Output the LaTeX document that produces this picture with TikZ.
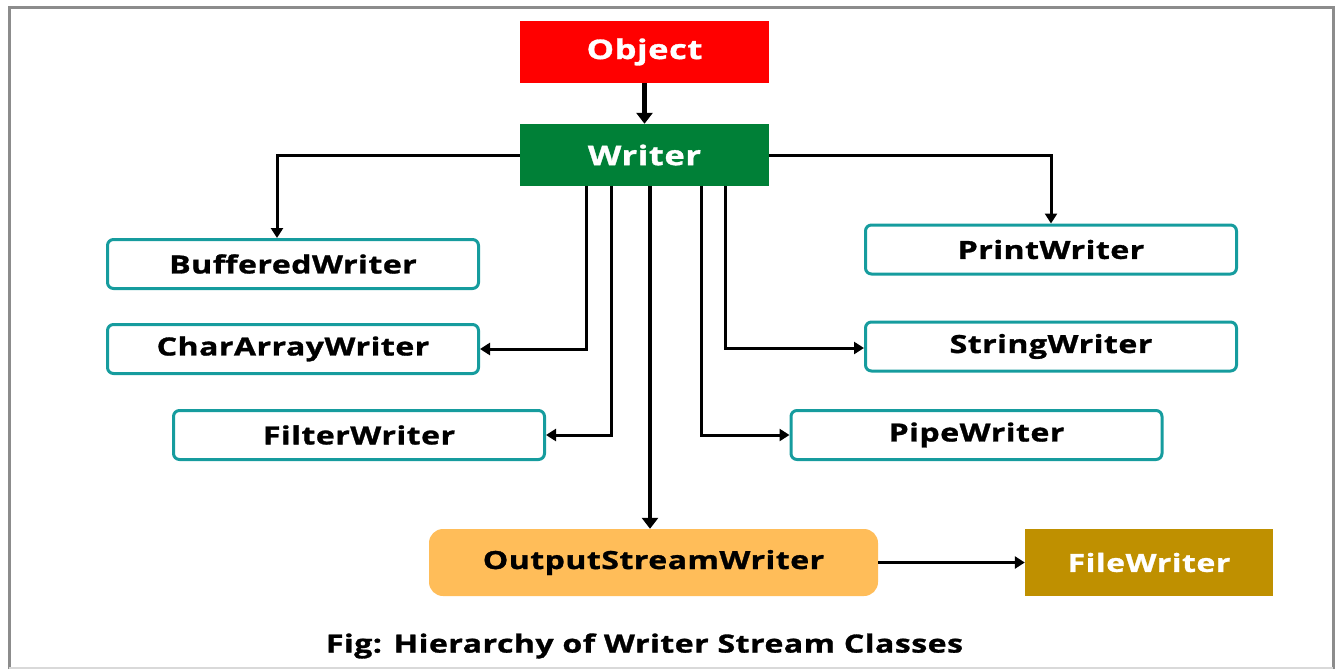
\documentclass[tikz,border=0pt]{standalone}
\usepackage{fontspec}
\setmainfont{Open Sans}
\newfontfamily\widefont[FakeStretch=1.28,LetterSpace=2,FakeBold=1.2]{Open Sans}
\usetikzlibrary{arrows.meta}
\definecolor{objred}{HTML}{FF0000}
\definecolor{wgreen}{HTML}{008037}
\definecolor{teal2}{HTML}{169C9E}
\definecolor{orng}{HTML}{FFBD59}
\definecolor{gold2}{HTML}{BF9000}
\begin{document}
\begin{tikzpicture}[x=1pt,y=-1pt,
  topbox/.style={minimum width=249pt,minimum height=62pt,inner sep=0pt,text=white,font=\widefont\bfseries\fontsize{27}{30}\selectfont},
  classbox/.style={draw=teal2,line width=3pt,rounded corners=6pt,minimum width=371pt,minimum height=49pt,inner sep=0pt,font=\widefont\bfseries\fontsize{25}{28}\selectfont},
  conn/.style={line width=3pt,-{Triangle[width=12pt,length=10pt]}},
  thick conn/.style={line width=4.5pt,-{Triangle[width=16pt,length=11pt]}},
  frame/.style={draw=gray!90,line width=3pt}
]
\useasboundingbox (0,0) rectangle (1340,669);
\draw[frame] (9,669) -- (9,8) -- (1333,8) -- (1333,669);
\draw[gray!30,line width=1.5pt] (9,668) -- (1333,668);

\node[topbox,fill=objred] (object) at (644.5,52) {Object};
\node[topbox,fill=wgreen] (writer) at (644.5,155) {Writer};

\node[classbox] (buffered) at (293,264) {BufferedWriter};
\node[classbox] (chararray) at (293,349) {CharArrayWriter};
\node[classbox] (filter) at (359,435) {FilterWriter};
\node[classbox] (print) at (1051,249.5) {PrintWriter};
\node[classbox] (string) at (1051,346.5) {StringWriter};
\node[classbox] (pipe) at (976.5,435) {PipeWriter};

\node[fill=orng,rounded corners=14pt,minimum width=449pt,minimum height=67pt,inner sep=0pt,font=\widefont\bfseries\fontsize{25}{28}\selectfont] (output) at (653.5,562.5) {OutputStreamWriter};
\node[fill=gold2,minimum width=248pt,minimum height=67pt,inner sep=0pt,text=white,font=\widefont\bfseries\fontsize{25}{28}\selectfont] (file) at (1149,562.5) {FileWriter};

\node[font=\widefont\bfseries\fontsize{25}{30}\selectfont] (caption) at (644.5,646) {Fig: Hierarchy of Writer Stream Classes};

\draw[thick conn] (object) -- (writer);
\draw[conn] (writer.west) -| ([xshift=-16pt]buffered.north);
\draw[conn] (writer.east) -| (print.north);
\draw[conn] ([xshift=-58.5pt]writer.south) |- (chararray.east);
\draw[conn] ([xshift=-33.5pt]writer.south) |- (filter.east);
\draw[thick conn] ([xshift=5.5pt]writer.south) -- ([xshift=5.5pt]writer.south |- output.north);
\draw[conn] ([xshift=56.5pt]writer.south) |- (pipe.west);
\draw[conn] ([xshift=80.5pt]writer.south) |- ([yshift=-1.5pt]string.west);
\draw[conn] (output) -- (file);
\end{tikzpicture}
\end{document}
